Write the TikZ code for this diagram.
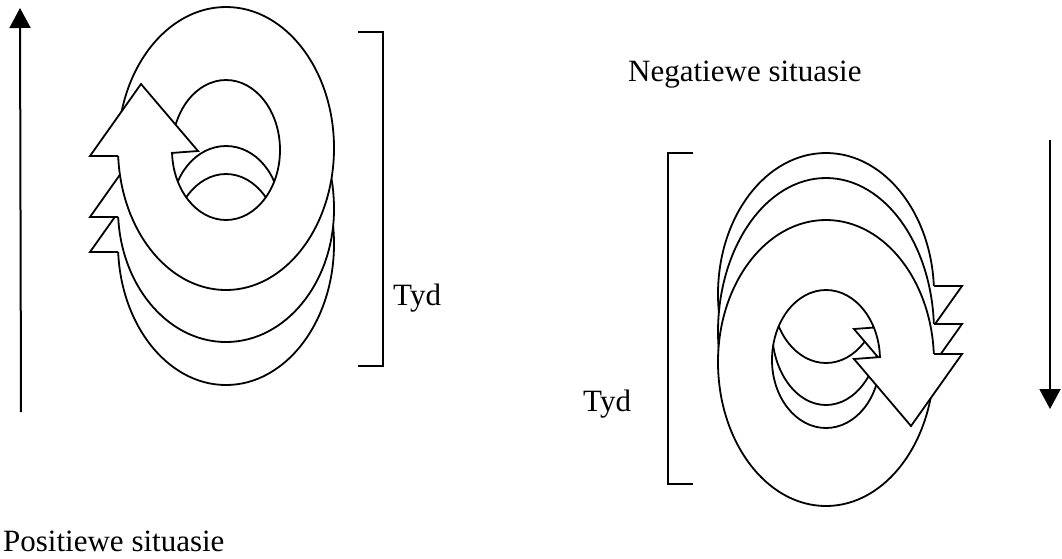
\documentclass[tikz,border=0pt]{standalone}
\usepackage{fontspec}
\setmainfont{Liberation Serif}
\usetikzlibrary{arrows.meta}
\newcommand{\eggpath}[4]{%
 ({#2},{#1}) .. controls ({#2},{#1-0.5523*#3}) and ({0.5523*#2},{#1-#3}) .. (0,{#1-#3})
 .. controls ({-0.5523*#2},{#1-#3}) and ({-#2},{#1-0.5523*#3}) .. ({-#2},{#1})
 .. controls ({-#2},{#1+0.5523*#4}) and ({-0.5523*#2},{#1+#4}) .. (0,{#1+#4})
 .. controls ({0.5523*#2},{#1+#4}) and ({#2},{#1+0.5523*#4}) .. ({#2},{#1}) -- cycle}
\newcommand{\spirallayer}[4]{%
 \filldraw[ringshape] \eggpath{0}{108}{#1}{#2} \eggpath{2}{54}{#3}{#4};
 \filldraw[ringshape] (-108,8) -- (-136,8) -- (-85,-64) -- (-28,3) -- (-55,5);
}
\tikzset{
 ringshape/.style={fill=white, draw=black, line width=1.8pt, even odd rule, line join=miter},
 axisline/.style={draw=black, line width=2pt, -{Triangle[length=20pt,width=21pt]}},
 bracketline/.style={draw=black, line width=1.7pt},
 lbl/.style={inner sep=0pt, anchor=base west, font=\fontsize{31}{37}\selectfont}
}
\begin{document}
\begin{tikzpicture}[x=1pt,y=-1pt]
\useasboundingbox[fill=white] (0,0) rectangle (1062,558);
% left spiral (back to front)
\begin{scope}[shift={(226,244)}]\spirallayer{141}{141}{72}{70}\end{scope}
\begin{scope}[shift={(226,209)}]\spirallayer{141}{133}{65}{70}\end{scope}
\begin{scope}[shift={(226,148)}]\spirallayer{141}{142}{70}{70}\end{scope}
% right spiral (back to front)
\begin{scope}[shift={(826,294)},rotate=180]\spirallayer{141}{141}{71}{70}\end{scope}
\begin{scope}[shift={(826,332)},rotate=180]\spirallayer{141}{154}{75}{70}\end{scope}
\begin{scope}[shift={(826,362)},rotate=180]\spirallayer{144}{142}{68}{70}\end{scope}
% axis arrows
\coordinate (upS) at (21,412);
\coordinate (upE) at (20,8);
\draw[axisline] (upS) -- (upE);
\coordinate (dnS) at (1050,140);
\coordinate (dnE) at (1050,409);
\draw[axisline] (dnS) -- (dnE);
% brackets
\draw[bracketline] (358,32) -- (383,32) -- (383,366) -- (358,366);
\draw[bracketline] (693,153) -- (668,153) -- (668,484) -- (693,484);
% labels
\node[lbl] (pos) at (3,551) {Positiewe situasie};
\node[lbl] (neg) at (628,81) {Negatiewe situasie};
\node[lbl] (tydL) at (393,305) {Tyd};
\node[lbl] (tydR) at (583,411) {Tyd};
\end{tikzpicture}
\end{document}
